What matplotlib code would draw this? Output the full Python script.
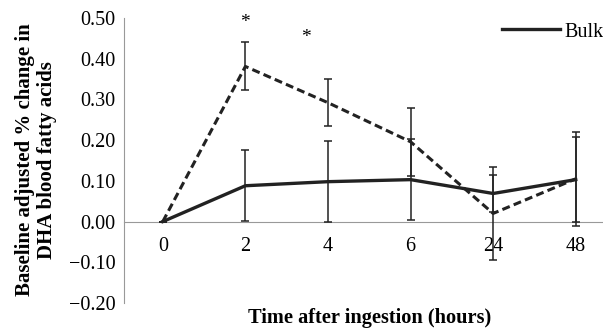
import matplotlib.pyplot as plt
import numpy as np

plt.rcParams['font.family'] = ['Liberation Serif', 'DejaVu Serif']

# data
hours = ['0', '2', '4', '6', '24', '48']
bulk = [0.0, 0.088, 0.098, 0.103, 0.069, 0.103]
bulk_err = [0.0, 0.087, 0.100, 0.100, 0.045, 0.105]
other = [0.0, 0.381, 0.292, 0.196, 0.020, 0.105]
other_err = [0.0, 0.059, 0.058, 0.084, 0.115, 0.116]
star_x = [1.0, 1.73]
star_y = [0.49, 0.452]

x = np.arange(len(hours))
ink = '#222222'

fig = plt.figure(figsize=(6.03, 3.31), dpi=100)
ax = fig.add_axes([0.2056, 0.0846, 0.7944, 0.861])

ax.errorbar(x, other, yerr=other_err, color=ink, lw=2.2, ls=(0, (2.6, 1.4)),
            ecolor=ink, elinewidth=1.1, capsize=3.2, capthick=1.1)
sol = ax.errorbar(x, bulk, yerr=bulk_err, color=ink, lw=2.4,
                  ecolor=ink, elinewidth=1.1, capsize=3.2, capthick=1.1)

for sx, sy in zip(star_x, star_y):
    ax.text(sx, sy, '*', ha='center', va='center', fontsize=14, clip_on=False)

ax.set_xlim(-0.47, 5.33)
ax.set_ylim(-0.2, 0.5)
ax.set_yticks(np.arange(-0.2, 0.51, 0.1))
ax.set_yticklabels(['\u22120.20', '\u22120.10', '0.00', '0.10', '0.20', '0.30', '0.40', '0.50'])
ax.set_xticks(x)
ax.set_xticklabels(hours)
ax.tick_params(length=0, labelsize=14.5)
ax.tick_params(axis='y', pad=6)
ax.tick_params(axis='x', pad=11)

for s in ['top', 'right']:
    ax.spines[s].set_visible(False)
ax.spines['left'].set_color('#999999')
ax.spines['bottom'].set_position(('data', 0))
ax.spines['bottom'].set_color('#999999')
ax.spines['bottom'].set_zorder(0)

fig.text(36 / 603, 0.517, 'Baseline adjusted % change in\nDHA blood fatty acids',
         rotation=90, ha='center', va='center', fontsize=15, fontweight='bold',
         linespacing=1.1)
fig.text(370 / 603, 0.008, 'Time after ingestion (hours)', ha='center', va='bottom',
         fontsize=14.7, fontweight='bold')

ax.legend([sol.lines[0]], ['Bulk'], loc='center left', bbox_to_anchor=(0.789, 0.951),
          frameon=False, fontsize=14.5, handlelength=2.9, handletextpad=0.2,
          borderpad=0, borderaxespad=0)

fig.savefig('out.png', dpi=100)
